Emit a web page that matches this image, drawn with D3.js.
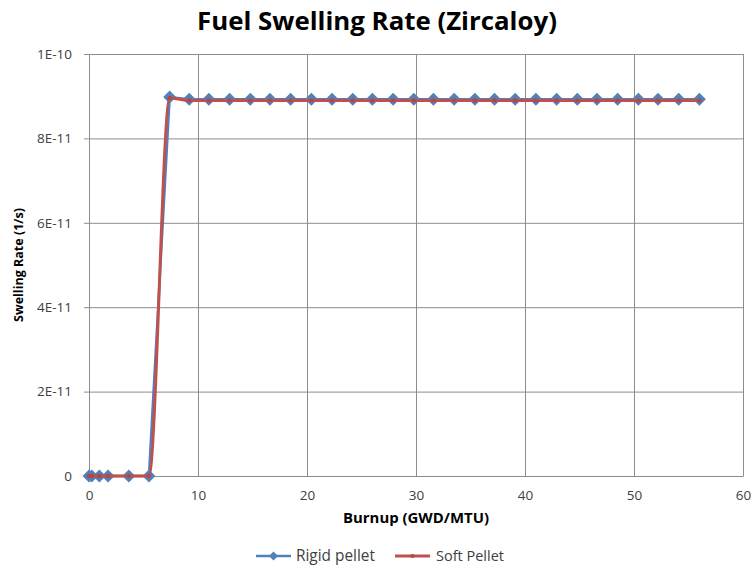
<!DOCTYPE html>
<html><head><meta charset="utf-8">
<script src="https://cdn.jsdelivr.net/npm/d3@7"></script>
<style>body{margin:0;background:#fff;} svg{display:block;font-family:"Open Sans",sans-serif;}</style>
</head><body>
<svg id="c" width="755" height="566"></svg>
<script>
const burnup = [0, 0.25, 0.95, 1.75, 3.65, 5.5, 7.4, 9.2, 11.0, 12.9, 14.8, 16.6, 18.5, 20.4, 22.3, 24.2, 26.0, 27.9, 29.8, 31.6, 33.5, 35.4, 37.2, 39.1, 41.0, 42.9, 44.8, 46.6, 48.5, 50.4, 52.2, 54.1, 56.0];
const rigid = [0, 0, 0, 0, 0, 0, 8.98e-11, 8.93e-11, 8.93e-11, 8.93e-11, 8.93e-11, 8.93e-11, 8.93e-11, 8.93e-11, 8.93e-11, 8.93e-11, 8.93e-11, 8.93e-11, 8.93e-11, 8.93e-11, 8.93e-11, 8.93e-11, 8.93e-11, 8.93e-11, 8.93e-11, 8.93e-11, 8.93e-11, 8.93e-11, 8.93e-11, 8.93e-11, 8.93e-11, 8.93e-11, 8.93e-11];
const soft = [0, 0, 0, 0, 0, 0, 8.96e-11, 8.9e-11, 8.9e-11, 8.9e-11, 8.9e-11, 8.9e-11, 8.9e-11, 8.9e-11, 8.9e-11, 8.9e-11, 8.9e-11, 8.9e-11, 8.9e-11, 8.9e-11, 8.9e-11, 8.9e-11, 8.9e-11, 8.9e-11, 8.9e-11, 8.9e-11, 8.9e-11, 8.9e-11, 8.9e-11, 8.9e-11, 8.9e-11, 8.9e-11, 8.9e-11];
const xTicks = [0, 10, 20, 30, 40, 50, 60];
const yTicks = [0, 2e-11, 4e-11, 6e-11, 8e-11, 1e-10];
const yTickLabels = ["0", "2E-11", "4E-11", "6E-11", "8E-11", "1E-10"];
const seriesNames = ["Rigid pellet", "Soft Pellet"];
const title = "Fuel Swelling Rate (Zircaloy)";
const xTitle = "Burnup (GWD/MTU)";
const yTitle = "Swelling Rate (1/s)";

const svg = d3.select("#c");
const L = 89, R = 743, T = 54, B = 476;
const x = d3.scaleLinear().domain([0, 60]).range([L, R]);
const y = d3.scaleLinear().domain([0, 1e-10]).range([B, T]);
const blue = "#4F81BD", red = "#C0504D", grid = "#8c8c8c", txt = "#404040";

const gx = svg.append("g").attr("transform", `translate(0,${B})`)
  .call(d3.axisBottom(x).tickValues(xTicks).tickSize(-(B - T)).tickSizeOuter(0).tickFormat(d3.format("d")).tickPadding(14));
gx.select(".domain").attr("stroke", grid);
gx.selectAll(".tick line").attr("stroke", grid);
gx.selectAll("text").attr("fill", txt).style("font-size", "13.5px").style("font-family", "'Open Sans',sans-serif");

const gy = svg.append("g").attr("transform", `translate(${L},0)`)
  .call(d3.axisLeft(y).tickValues(yTicks).tickSize(-(R - L)).tickSizeOuter(0).tickFormat((d, i) => yTickLabels[i]).tickPadding(17));
gy.select(".domain").attr("stroke", grid);
gy.selectAll(".tick line").attr("stroke", grid).attr("x1", -5);
gy.selectAll("text").attr("fill", txt).style("font-size", "13.5px").style("font-family", "'Open Sans',sans-serif");

const pts = burnup.map((b, i) => ({ b, r: rigid[i], s: soft[i] }));
svg.append("path").datum(pts)
  .attr("fill", "none").attr("stroke", blue).attr("stroke-width", 2.5)
  .attr("d", d3.line().x(d => x(d.b)).y(d => y(d.r)));
const diamond = (cx, cy, h) => `M${cx},${cy - h}L${cx + h},${cy}L${cx},${cy + h}L${cx - h},${cy}Z`;
svg.append("g").selectAll("path").data(pts).join("path")
  .attr("d", d => diamond(x(d.b), y(d.r), 6.5)).attr("fill", blue);

svg.append("path").datum(pts)
  .attr("fill", "none").attr("stroke", red).attr("stroke-width", 3)
  .attr("d", d3.line().x(d => x(d.b)).y(d => y(d.s)).curve(d3.curveMonotoneX));
svg.append("g").selectAll("circle").data(pts).join("circle")
  .attr("cx", d => x(d.b)).attr("cy", d => y(d.s)).attr("r", 2.2).attr("fill", "#b54643");

const fitText = (sel, w) => { const n = sel.node(); const l = n.getComputedTextLength(); const fs = parseFloat(sel.style("font-size")); sel.style("font-size", (fs * w / l) + "px"); };
const t = svg.append("text").attr("x", 377).attr("y", 30).attr("text-anchor", "middle")
  .style("font-size", "22px").style("font-weight", "bold").attr("fill", "#000").text(title);
fitText(t, 360);
const xt = svg.append("text").attr("x", 416).attr("y", 523).attr("text-anchor", "middle")
  .style("font-size", "13px").style("font-weight", "bold").attr("fill", "#000").text(xTitle);
fitText(xt, 146);
const yt = svg.append("text").attr("transform", "translate(23,265) rotate(-90)").attr("text-anchor", "middle")
  .style("font-size", "13px").style("font-weight", "bold").attr("fill", "#000").text(yTitle);
fitText(yt, 114);

const lg = svg.append("g");
lg.append("line").attr("x1", 256).attr("x2", 291).attr("y1", 556).attr("y2", 556).attr("stroke", blue).attr("stroke-width", 2.5);
lg.append("path").attr("d", diamond(273.5, 556, 4.5)).attr("fill", blue);
const l1 = lg.append("text").attr("x", 296).attr("y", 561).style("font-size", "14px").attr("fill", txt).text(seriesNames[0]);
fitText(l1, 79);
lg.append("line").attr("x1", 395).attr("x2", 430).attr("y1", 556).attr("y2", 556).attr("stroke", red).attr("stroke-width", 3);
lg.append("circle").attr("cx", 412.5).attr("cy", 556).attr("r", 2).attr("fill", "#b54643");
const l2 = lg.append("text").attr("x", 436).attr("y", 561).style("font-size", "14px").attr("fill", txt).text(seriesNames[1]);
fitText(l2, 68);
</script>
</body></html>
